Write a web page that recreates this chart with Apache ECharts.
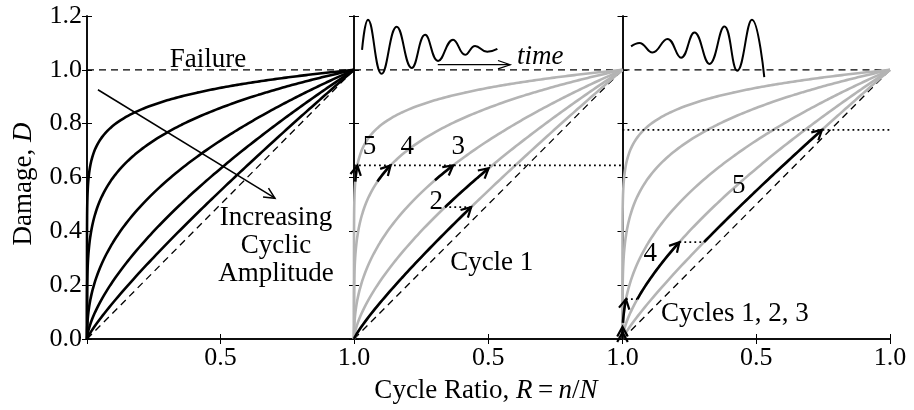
<!DOCTYPE html>
<html>
<head>
<meta charset="utf-8">
<script src="https://cdn.jsdelivr.net/npm/echarts@6/dist/echarts.min.js"></script>
<style>
  html, body { margin: 0; padding: 0; background: #fff; }
  #chart { width: 914px; height: 410px; }
</style>
</head>
<body>
<div id="chart"></div>
<script>
// Exponents q of the damage curves D = R^q, most nonlinear first
const exponents = [0.1, 0.22, 0.44, 0.66, 0.86];

// Axis ticks
const xTicks = [0, 0.5, 1.0];
const yTicks = [0, 0.2, 0.4, 0.6, 0.8, 1.0, 1.2];
const failureLevel = 1.0;

// Middle panel (high-to-low amplitude): [curve index, D at start, D at arrow tip]
const hiLoSteps = [
  [4, 0.0, 0.49],   // cycle 1
  [3, 0.49, 0.634], // cycle 2
  [2, 0.59, 0.645], // cycle 3
  [1, 0.585, 0.645],// cycle 4
  [0, 0.585, 0.645] // cycle 5
];
// dotted transfers between curves: [D, from curve, to curve]
const hiLoTransfers = [[0.49, 4, 3]];
const hiLoLevel = 0.645;

// Right panel (low-to-high amplitude)
const loHiSteps = [
  [0, 0.0, 0.025],  // cycle 1
  [1, 0.012, 0.045],// cycle 2
  [2, 0.06, 0.148], // cycle 3
  [3, 0.148, 0.36], // cycle 4
  [4, 0.36, 0.777]  // cycle 5
];
const loHiTransfers = [[0.148, 2, 3], [0.36, 3, 4]];
const loHiLevel = 0.777;

// Loading histories sketched above the curves: extremes as [R, D]
const decayingWave = [
  [0.030, 1.074], [0.052, 1.186], [0.103, 0.985], [0.159, 1.160], [0.215, 1.007],
  [0.265, 1.130], [0.313, 1.033], [0.369, 1.112], [0.414, 1.056], [0.451, 1.089],
  [0.496, 1.067], [0.534, 1.078]
];
const growingWave = [
  [0.032, 1.087], [0.063, 1.100], [0.112, 1.064], [0.168, 1.115], [0.219, 1.045],
  [0.269, 1.139], [0.325, 1.022], [0.381, 1.161], [0.429, 0.997], [0.484, 1.186],
  [0.530, 0.973]
];
const timeArrow = [[0.312, 1.019], [0.582, 1.019]];
const amplitudeArrow = [[0.041, 0.926], [0.704, 0.523]];

// Text annotations: [panel, text, R, D, italic]
const notes = [
  [0, 'Failure', 0.453, 1.036, false],
  [0, 'Increasing\nCyclic\nAmplitude', 0.708, 0.346, false],
  [1, 'time', 0.694, 1.048, true],
  [1, '5', 0.058, 0.715, false],
  [1, '4', 0.198, 0.715, false],
  [1, '3', 0.388, 0.715, false],
  [1, '2', 0.306, 0.51, false],
  [1, 'Cycle 1', 0.513, 0.283, false],
  [2, '5', 0.435, 0.569, false],
  [2, '4', 0.104, 0.316, false],
  [2, 'Cycles 1, 2, 3', 0.42, 0.093, false]
];

const FONT = '"Liberation Serif", "Times New Roman", Times, serif';
const GRAY = '#b4b4b4';

function rAt(q, d) { return Math.pow(d, 1 / q); }

// Points along D = R^q between two damage levels, sampled in both R and D
function curvePoints(q, d0, d1) {
  const pts = [];
  const n = 240;
  for (let i = 0; i <= n; i++) {
    const d = d0 + (d1 - d0) * i / n;
    pts.push([rAt(q, d), d]);
  }
  const r0 = rAt(q, d0), r1 = rAt(q, d1);
  for (let i = 0; i <= n; i++) {
    const r = r0 + (r1 - r0) * i / n;
    pts.push([r, Math.pow(r, q)]);
  }
  pts.sort((a, b) => a[0] - b[0] || a[1] - b[1]);
  return pts;
}

const grids = [
  { left: 87, width: 267, top: 16, height: 323 },
  { left: 354, width: 268.5, top: 16, height: 323 },
  { left: 622.5, width: 267.5, top: 16, height: 323 }
];

const xAxes = [], yAxes = [];
grids.forEach((g, i) => {
  ['bottom', 'top'].forEach(pos => {
    xAxes.push({
      gridIndex: i, type: 'value', position: pos,
      min: xTicks[0], max: xTicks[xTicks.length - 1], interval: xTicks[1] - xTicks[0],
      axisLine: { lineStyle: { color: '#000', width: 1.5 } },
      axisTick: { inside: true, length: 5, lineStyle: { color: '#000', width: 1 } },
      axisLabel: {
        show: pos === 'bottom', color: '#000', fontFamily: FONT, fontSize: 26, margin: 6,
        formatter: v => (v === 0 ? '' : v.toFixed(1))
      },
      splitLine: { show: false }
    });
  });
  ['left', 'right'].forEach(pos => {
    yAxes.push({
      gridIndex: i, type: 'value', position: pos,
      min: yTicks[0], max: yTicks[yTicks.length - 1], interval: yTicks[1] - yTicks[0],
      axisLine: { lineStyle: { color: '#000', width: 1.5 } },
      axisTick: { inside: true, length: 5, lineStyle: { color: '#000', width: 1 } },
      axisLabel: {
        show: pos === 'left' && i === 0, color: '#000', fontFamily: FONT, fontSize: 26, margin: 5,
        formatter: v => v.toFixed(1)
      },
      splitLine: { show: false }
    });
  });
});

const series = [];
function line(panel, data, style, z) {
  series.push({
    type: 'line', xAxisIndex: panel * 2, yAxisIndex: panel * 2, data,
    showSymbol: false, symbol: 'none', smooth: style.smooth || false,
    lineStyle: { color: style.color || '#000', width: style.width || 2, type: style.type || 'solid', cap: style.cap || 'butt' },
    silent: true, animation: false, z: z || 2, clip: false
  });
}

// Open arrowheads drawn at a tip, pointing away from a point behind it
const heads = [[], [], []];
function addHead(panel, tip, back, len, half, width) {
  heads[panel].push([tip[0], tip[1], back[0], back[1], len, half, width]);
}

grids.forEach((g, p) => {
  // reference lines: failure and linear damage rule
  line(p, [[0, failureLevel], [1, failureLevel]], { type: [7, 5], width: 1.3 }, 1);
  line(p, [[0, 0], [1, 1]], { type: [7, 5], width: 1.3 }, 1);
  // damage curves
  exponents.forEach(q => {
    line(p, curvePoints(q, 0, 1), { color: p === 0 ? '#000' : GRAY, width: 2.6 }, p === 0 ? 3 : 2);
  });
});

// Left panel arrow
line(0, amplitudeArrow, { width: 1.5 }, 4);
addHead(0, amplitudeArrow[1], amplitudeArrow[0], 12, 0.45, 1.5);

// Cycle paths on the curves
function drawSteps(panel, steps, transfers, level) {
  line(panel, [[0, level], [1, level]], { type: [1.8, 3.2], width: 1.8 }, 3);
  transfers.forEach(([d, a, b]) => {
    line(panel, [[rAt(exponents[a], d), d], [rAt(exponents[b], d), d]], { type: [1.8, 3.2], width: 1.8 }, 3);
  });
  steps.forEach(([c, d0, d1]) => {
    const q = exponents[c];
    line(panel, curvePoints(q, d0, d1), { width: 2.6 }, 5);
    const back = d1 - 0.01;
    addHead(panel, [rAt(q, d1), d1], [rAt(q, back), back], 11, 0.5, 2.2);
  });
}
drawSteps(1, hiLoSteps, hiLoTransfers, hiLoLevel);
drawSteps(2, loHiSteps, loHiTransfers, loHiLevel);

// Loading histories and time arrow
line(1, decayingWave, { width: 2, smooth: 0.45 }, 4);
line(2, growingWave, { width: 2, smooth: 0.45 }, 4);
line(1, timeArrow, { width: 1.2 }, 4);
addHead(1, timeArrow[1], timeArrow[0], 13, 0.33, 1.2);

heads.forEach((list, p) => {
  series.push({
    type: 'custom', xAxisIndex: p * 2, yAxisIndex: p * 2, data: list,
    encode: { x: [0, 2], y: [1, 3] }, clip: false, silent: true, z: 6, animation: false,
    renderItem: (params, api) => {
      const tip = api.coord([api.value(0), api.value(1)]);
      const back = api.coord([api.value(2), api.value(3)]);
      const len = api.value(4), half = api.value(5), w = api.value(6);
      const ang = Math.atan2(tip[1] - back[1], tip[0] - back[0]);
      const p1 = [tip[0] - len * Math.cos(ang - half), tip[1] - len * Math.sin(ang - half)];
      const p2 = [tip[0] - len * Math.cos(ang + half), tip[1] - len * Math.sin(ang + half)];
      return {
        type: 'polyline', shape: { points: [p1, tip, p2] },
        style: { stroke: '#000', lineWidth: w, fill: null, lineJoin: 'miter' }
      };
    }
  });
});

// Annotations, drawn as text marks anchored at data coordinates
const noteStyle = { fill: '#000', fontFamily: FONT, fontSize: 27, lineHeight: 28, align: 'center', verticalAlign: 'middle' };
[0, 1, 2].forEach(p => {
  const items = notes.filter(n => n[0] === p).map(n => [n[2], n[3], n[1], n[4] ? 1 : 0]);
  series.push({
    type: 'custom', xAxisIndex: p * 2, yAxisIndex: p * 2, data: items,
    encode: { x: 0, y: 1 }, clip: false, silent: true, z: 7, animation: false,
    renderItem: (params, api) => {
      const pt = api.coord([api.value(0), api.value(1)]);
      const item = items[params.dataIndex];
      return {
        type: 'text', x: pt[0], y: pt[1],
        style: Object.assign({}, noteStyle, { text: item[2], fontStyle: item[3] ? 'italic' : 'normal' })
      };
    }
  });
});

const chart = echarts.init(document.getElementById('chart'));
chart.setOption({
  animation: false,
  backgroundColor: '#fff',
  grid: grids,
  xAxis: xAxes,
  yAxis: yAxes,
  series,
  graphic: [
    {
      type: 'text', x: 24, y: 184, rotation: Math.PI / 2,
      style: {
        text: 'Damage, {i|D}', fill: '#000', fontFamily: FONT, fontSize: 27,
        align: 'center', verticalAlign: 'middle',
        rich: { i: { fontStyle: 'italic', fontFamily: FONT, fontSize: 27, fill: '#000' } }
      }
    },
    {
      type: 'text', x: 486, y: 391,
      style: {
        text: 'Cycle Ratio, {i|R}\u2009=\u2009{i|n}/{i|N}', fill: '#000', fontFamily: FONT, fontSize: 27,
        align: 'center', verticalAlign: 'middle',
        rich: { i: { fontStyle: 'italic', fontFamily: FONT, fontSize: 27, fill: '#000' } }
      }
    }
  ]
});
</script>
</body>
</html>
